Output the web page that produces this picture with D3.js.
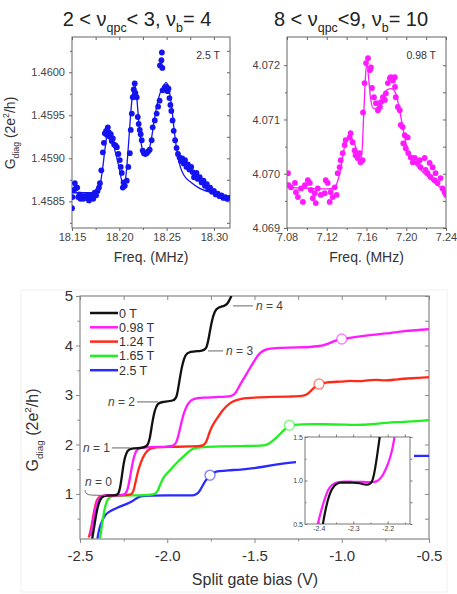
<!DOCTYPE html>
<html>
<head>
<meta charset="utf-8">
<script src="https://cdn.jsdelivr.net/npm/d3@7"></script>
<style>
  body { margin: 0; background: #fff; }
  svg { font-family: "Liberation Sans", Arial, sans-serif; }
</style>
</head>
<body>
<svg id="chart" width="457" height="594"></svg>
<script>
// ---- top left: 2.5 T spectrum (freq MHz, G in 2e^2/h)
const spec25Points = [
  [18.1500,1.45842],[18.1505,1.45855],[18.1520,1.45863],[18.1530,1.45871],[18.1540,1.45865],[18.1555,1.45866],
  [18.1565,1.45855],[18.1580,1.45858],[18.1590,1.45853],[18.1605,1.45856],[18.1620,1.45853],[18.1635,1.45856],
  [18.1650,1.45854],[18.1665,1.45857],[18.1680,1.45851],[18.1695,1.45855],[18.1710,1.45857],[18.1725,1.45853],
  [18.1740,1.45860],[18.1755,1.45857],[18.1770,1.45862],[18.1785,1.45866],[18.1795,1.45871],[18.1810,1.45886],
  [18.1826,1.45907],[18.1837,1.45918],[18.1847,1.45929],[18.1860,1.45932],[18.1870,1.45927],[18.1879,1.45936],
  [18.1890,1.45930],[18.1900,1.45925],[18.1910,1.45928],[18.1920,1.45920],[18.1932,1.45923],[18.1945,1.45916],
  [18.1960,1.45915],[18.1974,1.45913],[18.1990,1.45905],[18.2005,1.45898],[18.2015,1.45890],[18.2026,1.45883],
  [18.2037,1.45866],[18.2045,1.45872],[18.2058,1.45868],[18.2079,1.45874],[18.2095,1.45890],[18.2111,1.45906],
  [18.2121,1.45933],[18.2132,1.45952],[18.2142,1.45971],[18.2152,1.45980],[18.2163,1.45987],[18.2170,1.45976],
  [18.2184,1.45971],[18.2195,1.45948],[18.2205,1.45940],[18.2216,1.45933],[18.2226,1.45928],[18.2237,1.45921],
  [18.2247,1.45909],[18.2260,1.45906],[18.2275,1.45905],[18.2289,1.45906],[18.2305,1.45908],[18.2321,1.45910],
  [18.2342,1.45921],[18.2353,1.45936],[18.2375,1.45944],[18.2395,1.45952],[18.2410,1.45960],[18.2426,1.45967],
  [18.2430,1.46008],[18.2445,1.46014],[18.2450,1.46023],[18.2455,1.46005],[18.2458,1.45979],[18.2480,1.45982],
  [18.2500,1.45983],[18.2510,1.45978],[18.2520,1.45981],[18.2530,1.45970],[18.2540,1.45962],[18.2550,1.45955],
  [18.2563,1.45944],[18.2575,1.45932],[18.2590,1.45921],[18.2605,1.45912],[18.2620,1.45905],[18.2637,1.45901],
  [18.2650,1.45897],[18.2665,1.45900],[18.2680,1.45894],[18.2695,1.45898],[18.2710,1.45890],[18.2725,1.45893],
  [18.2740,1.45887],[18.2760,1.45890],[18.2775,1.45884],[18.2790,1.45878],[18.2805,1.45880],[18.2816,1.45883],
  [18.2830,1.45876],[18.2850,1.45878],[18.2870,1.45872],[18.2890,1.45874],[18.2905,1.45868],[18.2925,1.45870],
  [18.2940,1.45865],[18.2960,1.45866],[18.2980,1.45861],[18.3000,1.45862],[18.3020,1.45858],[18.3040,1.45859],
  [18.3060,1.45856],[18.3080,1.45857],[18.3100,1.45854],[18.3120,1.45855],[18.3140,1.45853],[18.3160,1.45854]
];
const spec25Fit = [
  [18.150,1.45860],[18.165,1.45860],[18.176,1.45861],[18.179,1.45866],[18.182,1.45885],[18.185,1.45912],
  [18.1875,1.45930],[18.189,1.45933],[18.191,1.45928],[18.194,1.45915],[18.197,1.45902],[18.200,1.45888],
  [18.2025,1.45874],[18.2045,1.45868],[18.2065,1.45875],[18.2085,1.45898],[18.2105,1.45928],[18.2125,1.45958],
  [18.2145,1.45978],[18.2163,1.45985],[18.218,1.45976],[18.220,1.45950],[18.222,1.45926],[18.2245,1.45910],
  [18.2275,1.45904],[18.2305,1.45907],[18.2335,1.45920],[18.2375,1.45948],[18.2415,1.45970],[18.2455,1.45982],
  [18.2495,1.45988],[18.2525,1.45980],[18.2555,1.45958],[18.2585,1.45928],[18.2615,1.45905],[18.2645,1.45890],
  [18.2685,1.45880],[18.2760,1.45872],[18.2850,1.45865],[18.3030,1.45859],[18.3170,1.45855]
];

// ---- top right: 0.98 T spectrum
const spec098Points = [
  [7.081,4.07001],[7.0815,4.06979],[7.084,4.06975],[7.088,4.06983],[7.089,4.06966],[7.091,4.06957],
  [7.094,4.06973],[7.096,4.06948],[7.098,4.06979],[7.101,4.06988],[7.103,4.06983],[7.104,4.06970],
  [7.106,4.06955],[7.108,4.06964],[7.109,4.06946],[7.111,4.06973],[7.114,4.06961],[7.118,4.06964],
  [7.119,4.06988],[7.121,4.06983],[7.123,4.06948],[7.124,4.06966],[7.126,4.06957],[7.128,4.06975],
  [7.130,4.06961],[7.131,4.07001],[7.133,4.07012],[7.134,4.07025],[7.136,4.07038],[7.138,4.07053],
  [7.139,4.07062],[7.143,4.07067],[7.144,4.07075],[7.146,4.07058],[7.148,4.07043],[7.149,4.07034],
  [7.151,4.07029],[7.153,4.07038],[7.154,4.07021],[7.156,4.07025],[7.1565,4.07113],[7.158,4.07167],
  [7.1595,4.07204],[7.1615,4.07213],[7.1635,4.07191],[7.1645,4.07196],[7.1655,4.07158],[7.1675,4.07141],
  [7.1695,4.07130],[7.1715,4.07117],[7.1735,4.07123],[7.1745,4.07132],[7.1765,4.07141],[7.1785,4.07136],
  [7.1795,4.07148],[7.1815,4.07167],[7.1835,4.07176],[7.1845,4.07178],[7.1865,4.07172],[7.1885,4.07178],
  [7.1887,4.07160],[7.1895,4.07141],[7.1915,4.07123],[7.1935,4.07117],[7.1945,4.07090],[7.1965,4.07086],
  [7.1985,4.07071],[7.1970,4.07056],[7.1995,4.07047],[7.2015,4.07067],[7.2020,4.07038],[7.2045,4.07030],
  [7.2065,4.07021],[7.2085,4.07029],[7.2115,4.07020],[7.2135,4.07025],[7.2145,4.07012],[7.2185,4.07029],
  [7.2195,4.07007],[7.2215,4.07001],[7.2235,4.07020],[7.2245,4.06994],[7.2265,4.07012],[7.2285,4.06988],
  [7.2295,4.07001],[7.2315,4.06983],[7.2345,4.06992],[7.2365,4.06973],[7.2385,4.06966],[7.2400,4.06961]
];
const spec098Fit = [
  [7.080,4.06975],[7.100,4.06973],[7.120,4.06972],[7.128,4.06975],[7.133,4.07000],[7.138,4.07050],
  [7.143,4.07068],[7.147,4.07060],[7.151,4.07040],[7.155,4.07030],[7.157,4.07100],[7.159,4.07180],
  [7.1605,4.07205],[7.162,4.07180],[7.164,4.07140],[7.167,4.07120],[7.171,4.07122],[7.176,4.07140],
  [7.181,4.07155],[7.185,4.07157],[7.189,4.07150],[7.193,4.07120],[7.197,4.07080],[7.2015,4.07043],
  [7.206,4.07025],[7.212,4.07012],[7.222,4.06994],[7.232,4.06978],[7.240,4.06968]
];

// ---- bottom: conductance vs split gate bias (V, G in 2e^2/h)
const fieldLabels = ["0 T", "0.98 T", "1.24 T", "1.65 T", "2.5 T"];
const fieldColors = ["#111111", "#ff1aff", "#ff2a1a", "#22ee22", "#2a2aff"];
const curve0T = [
  [-2.43,0.10],[-2.42,0.30],[-2.405,0.65],[-2.39,0.85],[-2.375,0.94],[-2.355,0.97],[-2.30,0.97],[-2.28,0.98],
  [-2.268,1.15],[-2.255,1.50],[-2.243,1.75],[-2.228,1.88],[-2.21,1.92],[-2.15,1.93],[-2.115,1.95],[-2.10,2.10],
  [-2.088,2.40],[-2.072,2.70],[-2.055,2.83],[-2.035,2.86],[-1.96,2.88],[-1.945,2.95],[-1.93,3.30],[-1.912,3.65],
  [-1.895,3.82],[-1.875,3.88],[-1.80,3.89],[-1.775,3.92],[-1.762,4.15],[-1.745,4.50],[-1.728,4.70],[-1.71,4.77],
  [-1.67,4.80],[-1.655,4.84],[-1.642,4.93],[-1.632,5.00]
];
const curve098T = [
  [-2.44,0.15],[-2.43,0.35],[-2.415,0.70],[-2.40,0.88],[-2.38,0.96],[-2.35,0.98],[-2.28,0.97],[-2.24,0.98],
  [-2.225,1.10],[-2.21,1.40],[-2.195,1.70],[-2.18,1.88],[-2.16,1.94],[-2.05,1.95],[-1.96,1.96],[-1.945,2.05],
  [-1.925,2.35],[-1.905,2.65],[-1.88,2.85],[-1.85,2.93],[-1.80,2.95],[-1.70,2.96],[-1.63,2.97],[-1.61,3.02],
  [-1.585,3.20],[-1.543,3.44],[-1.50,3.70],[-1.468,3.87],[-1.43,3.93],[-1.394,3.95],[-1.25,3.96],[-1.125,3.98],
  [-1.08,4.03],[-1.04,4.10],[-1.00,4.13],[-0.93,4.17],[-0.838,4.21],[-0.75,4.24],[-0.65,4.29],[-0.50,4.33]
];
const curve124T = [
  [-2.45,0.12],[-2.435,0.30],[-2.42,0.65],[-2.405,0.88],[-2.39,0.95],[-2.36,0.97],[-2.25,0.97],[-2.20,0.98],
  [-2.19,1.10],[-2.175,1.35],[-2.165,1.50],[-2.14,1.75],[-2.115,1.88],[-2.09,1.94],[-2.00,1.95],[-1.85,1.96],
  [-1.79,1.97],[-1.775,2.05],[-1.755,2.29],[-1.73,2.45],[-1.71,2.55],[-1.685,2.68],[-1.66,2.78],[-1.63,2.87],
  [-1.58,2.93],[-1.50,2.95],[-1.40,2.96],[-1.30,2.97],[-1.22,2.97],[-1.19,3.03],[-1.16,3.15],[-1.13,3.22],
  [-1.09,3.26],[-1.00,3.27],[-0.95,3.29],[-0.90,3.27],[-0.85,3.30],[-0.80,3.31],[-0.75,3.29],[-0.70,3.31],
  [-0.60,3.34],[-0.50,3.36]
];
const curve165T = [
  [-2.385,0.10],[-2.375,0.35],[-2.36,0.70],[-2.345,0.88],[-2.33,0.94],[-2.30,0.97],[-2.15,0.97],[-2.07,0.98],
  [-2.055,1.05],[-2.04,1.20],[-2.02,1.35],[-2.00,1.42],[-1.967,1.55],[-1.94,1.65],[-1.91,1.75],[-1.88,1.85],
  [-1.85,1.93],[-1.80,1.95],[-1.70,1.96],[-1.58,1.97],[-1.45,1.97],[-1.42,2.00],[-1.37,2.15],[-1.33,2.30],
  [-1.30,2.39],[-1.24,2.41],[-1.10,2.41],[-0.98,2.40],[-0.88,2.39],[-0.78,2.43],[-0.68,2.45],[-0.50,2.49]
];
const curve25T = [
  [-2.40,0.10],[-2.39,0.30],[-2.375,0.45],[-2.355,0.58],[-2.34,0.63],[-2.30,0.70],[-2.27,0.75],[-2.23,0.80],
  [-2.20,0.85],[-2.175,0.92],[-2.15,0.96],[-2.10,0.97],[-2.00,0.97],[-1.90,0.97],[-1.84,0.97],[-1.82,1.02],
  [-1.80,1.15],[-1.78,1.28],[-1.755,1.38],[-1.73,1.44],[-1.71,1.46],[-1.65,1.48],[-1.58,1.49],[-1.50,1.52],
  [-1.45,1.55],[-1.40,1.58],[-1.33,1.62],[-1.25,1.65],[-1.15,1.68],[-1.00,1.72],[-0.85,1.75],[-0.65,1.77],
  [-0.50,1.77]
];
const fieldCurves = [curve0T, curve098T, curve124T, curve165T, curve25T];
// open circles on each curve: [curve index, V, G]
const openMarkers = [[1,-1.00,4.13],[2,-1.13,3.22],[3,-1.30,2.39],[4,-1.755,1.38]];
// plateau labels: [text, V of line start, V of line end, G, side]
const plateauLabels = [
  ["4", -1.623, -1.509, 4.80, "right"],
  ["3", -1.766, -1.680, 3.89, "right"],
  ["2", -2.173, -2.053, 2.86, "left"],
  ["1", -2.317, -2.213, 1.93, "left"]
];

// inset: zoom of first plateau
const inset0T = [
  [-2.388,0.50],[-2.38,0.68],[-2.368,0.86],[-2.355,0.95],[-2.34,0.98],[-2.319,0.975],[-2.30,0.975],[-2.281,0.97],
  [-2.27,0.955],[-2.261,0.95],[-2.252,0.96],[-2.246,0.975],[-2.24,1.05],[-2.232,1.24],[-2.223,1.50]
];
const inset098T = [
  [-2.403,0.50],[-2.39,0.70],[-2.378,0.85],[-2.368,0.93],[-2.355,0.97],[-2.339,0.99],[-2.30,0.985],[-2.272,0.985],
  [-2.245,0.98],[-2.232,0.985],[-2.222,1.02],[-2.214,1.06],[-2.204,1.14],[-2.194,1.24],[-2.185,1.38],[-2.18,1.50]
];

const svg = d3.select("#chart");

// axes with ticks out on bottom/left, in on top/right (Origin style)
function drawAxes(g, x, y, o) {
  const [xl, xr] = x.range();
  const [yb, yt] = y.range();
  const tidy = sel => {
    sel.select(".domain").remove();
    sel.selectAll("line").attr("stroke", o.stroke);
    sel.selectAll("text").attr("fill", o.textColor).style("font-size", o.fontSize + "px")
      .style("font-family", '"Liberation Sans", Arial, sans-serif');
  };
  g.append("g").attr("transform", `translate(0,${yb})`)
    .call(d3.axisBottom(x).tickValues(o.xMajor).tickFormat(o.xFmt).tickSize(o.tick).tickPadding(o.xPad))
    .call(tidy);
  g.append("g").attr("transform", `translate(0,${yb})`)
    .call(d3.axisBottom(x).tickValues(o.xMinor).tickFormat("").tickSize(o.minor)).call(tidy);
  g.append("g").attr("transform", `translate(${xl},0)`)
    .call(d3.axisLeft(y).tickValues(o.yMajor).tickFormat(o.yFmt).tickSize(o.tick).tickPadding(o.yPad))
    .call(tidy);
  g.append("g").attr("transform", `translate(${xl},0)`)
    .call(d3.axisLeft(y).tickValues(o.yMinor).tickFormat("").tickSize(o.minor)).call(tidy);
  g.append("g").attr("transform", `translate(0,${yt})`)
    .call(d3.axisTop(x).tickValues(o.xMajor.concat(o.xMinor)).tickFormat("").tickSize(-o.tick)).call(tidy);
  g.append("g").attr("transform", `translate(${xr},0)`)
    .call(d3.axisRight(y).tickValues(o.yMajor.concat(o.yMinor)).tickFormat("").tickSize(-o.tick)).call(tidy);
  g.append("rect")
    .attr("x", xl).attr("y", yt).attr("width", xr - xl).attr("height", yb - yt)
    .attr("fill", "none").attr("stroke", o.stroke).attr("stroke-width", o.frameWidth || 1);
}

// text with subscript / superscript parts
function richText(sel, parts, size) {
  let shift = 0;
  parts.forEach(([t, kind]) => {
    const want = kind === "sub" ? size * 0.3 : kind === "sup" ? -size * 0.42 : 0;
    sel.append("tspan").text(t)
      .attr("font-size", kind ? size * 0.62 : size)
      .attr("dy", want - shift);
    shift = want;
  });
}

function gLabel(g, cx, cy, size) {
  const t = g.append("text")
    .attr("transform", `translate(${cx},${cy}) rotate(-90)`)
    .attr("text-anchor", "middle").attr("fill", "#333");
  richText(t, [["G"], ["diag", "sub"], [" (2e"], ["2", "sup"], ["/h)"]], size);
}

// ---------- top spectra ----------
function drawSpectrum(o) {
  const g = svg.append("g");
  const x = d3.scaleLinear().domain(o.xDomain).range([o.left, o.right]);
  const y = d3.scaleLinear().domain(o.yDomain).range([o.bottom, o.top]);

  drawAxes(g, x, y, {
    xMajor: o.xMajor, xMinor: o.xMinor, yMajor: o.yMajor, yMinor: o.yMinor,
    xFmt: o.xFmt, yFmt: o.yFmt, tick: 3, minor: 2, xPad: 2, yPad: 4,
    stroke: "#666", textColor: "#444", fontSize: 11
  });

  const clip = "clip" + o.id;
  g.append("clipPath").attr("id", clip).append("rect")
    .attr("x", o.left).attr("y", o.top).attr("width", o.right - o.left).attr("height", o.bottom - o.top);

  g.append("path").datum(o.fit)
    .attr("clip-path", `url(#${clip})`)
    .attr("fill", "none").attr("stroke", o.color).attr("stroke-width", 1.3)
    .attr("d", d3.line().x(d => x(d[0])).y(d => y(d[1])).curve(d3.curveMonotoneX));

  g.append("g").attr("clip-path", `url(#${clip})`)
    .selectAll("circle").data(o.points).join("circle")
    .attr("cx", d => x(d[0])).attr("cy", d => y(d[1])).attr("r", 2.9)
    .attr("fill", o.color);

  g.append("text").attr("x", o.right - 10).attr("y", o.top + 22)
    .attr("text-anchor", "end").attr("font-size", 10.5).attr("fill", "#333").text(o.tag);

  g.append("text").attr("x", (o.left + o.right) / 2).attr("y", 262)
    .attr("text-anchor", "middle").attr("font-size", 14).attr("fill", "#333").text("Freq. (MHz)");

  const t = g.append("text").attr("x", o.titleX).attr("y", 26)
    .attr("text-anchor", "middle").attr("fill", "#222");
  richText(t, o.title, 20);
}

drawSpectrum({
  id: "l", points: spec25Points, fit: spec25Fit, color: "#1414f0", tag: "2.5 T",
  xDomain: [18.15, 18.317], yDomain: [1.45819, 1.46041],
  left: 72, right: 230, top: 37, bottom: 228,
  xMajor: [18.15, 18.20, 18.25, 18.30], xMinor: [18.175, 18.225, 18.275],
  yMajor: [1.4585, 1.4590, 1.4595, 1.4600], yMinor: [1.45825, 1.45875, 1.45925, 1.45975, 1.46025],
  xFmt: d => d.toFixed(2), yFmt: d => d.toFixed(4),
  titleX: 137,
  title: [["2 < ν"], ["qpc", "sub"], ["< 3, ν"], ["b", "sub"], ["= 4"]]
});
drawSpectrum({
  id: "r", points: spec098Points, fit: spec098Fit, color: "#ff1aff", tag: "0.98 T",
  xDomain: [7.08, 7.24], yDomain: [4.069, 4.07252],
  left: 287, right: 446, top: 37, bottom: 228,
  xMajor: [7.08, 7.12, 7.16, 7.20, 7.24], xMinor: [7.10, 7.14, 7.18, 7.22],
  yMajor: [4.069, 4.070, 4.071, 4.072], yMinor: [4.0695, 4.0705, 4.0715],
  xFmt: d => d.toFixed(2), yFmt: d => d.toFixed(3),
  titleX: 351,
  title: [["8 < ν"], ["qpc", "sub"], ["<9, ν"], ["b", "sub"], ["= 10"]]
});
gLabel(svg, 15, 133, 14);

// ---------- bottom panel ----------
svg.append("rect").attr("x", 21).attr("y", 290).attr("width", 426).attr("height", 302)
  .attr("fill", "none").attr("stroke", "#f0f0f0");

const bx = d3.scaleLinear().domain([-2.5, -0.5]).range([80, 429]);
const by = d3.scaleLinear().domain([0.09, 5]).range([539, 296]);
const bottom = svg.append("g");

drawAxes(bottom, bx, by, {
  xMajor: [-2.5, -2.0, -1.5, -1.0, -0.5], xMinor: [-2.25, -1.75, -1.25, -0.75],
  yMajor: [1, 2, 3, 4, 5], yMinor: [0.5, 1.5, 2.5, 3.5, 4.5],
  xFmt: d => d.toFixed(1), yFmt: d => String(d), tick: 4, minor: 2.5, xPad: 7, yPad: 3,
  stroke: "#888", textColor: "#333", fontSize: 15, frameWidth: 1.2
});

bottom.append("clipPath").attr("id", "clipB").append("rect")
  .attr("x", 80).attr("y", 296).attr("width", 349).attr("height", 243);

const bLine = d3.line().x(d => bx(d[0])).y(d => by(d[1])).curve(d3.curveBasis);
const order = [4, 3, 2, 1, 0];
bottom.append("g").attr("clip-path", "url(#clipB)")
  .selectAll("path").data(order).join("path")
  .attr("fill", "none").attr("stroke", i => fieldColors[i]).attr("stroke-width", 2.3)
  .attr("stroke-linejoin", "round")
  .attr("d", i => bLine(fieldCurves[i]));

bottom.selectAll(".mk").data(openMarkers).join("circle").attr("class", "mk")
  .attr("cx", d => bx(d[1])).attr("cy", d => by(d[2])).attr("r", 5)
  .attr("fill", "#fff").attr("stroke", d => fieldColors[d[0]]).attr("stroke-opacity", 0.55)
  .attr("stroke-width", 1.5);

// plateau labels
plateauLabels.forEach(([n, v1, v2, gv, side]) => {
  bottom.append("line").attr("x1", bx(v1)).attr("x2", bx(v2)).attr("y1", by(gv)).attr("y2", by(gv))
    .attr("stroke", "#666").attr("stroke-width", 1);
  const t = bottom.append("text").attr("y", by(gv) + 4).attr("font-size", 12).attr("fill", "#444")
    .attr("x", side === "right" ? bx(v2) + 3 : bx(v1) - 2)
    .attr("text-anchor", side === "right" ? "start" : "end");
  t.append("tspan").attr("font-style", "italic").text("n");
  t.append("tspan").text(" = " + n);
});
const n0Path = [[-2.471, 1.08], [-2.468, 1.02], [-2.455, 0.985], [-2.43, 0.975], [-2.35, 0.97]];
bottom.append("path").datum(n0Path).attr("fill", "none").attr("stroke", "#666")
  .attr("d", d3.line().x(d => bx(d[0])).y(d => by(d[1])).curve(d3.curveBasis));
const t0 = bottom.append("text").attr("x", bx(-2.472)).attr("y", by(1.24) + 4)
  .attr("font-size", 12).attr("fill", "#444");
t0.append("tspan").attr("font-style", "italic").text("n");
t0.append("tspan").text(" = 0");

// legend
const legend = bottom.append("g");
fieldLabels.forEach((lab, i) => {
  const yy = 313 + i * 14.3;
  legend.append("line").attr("x1", 90).attr("x2", 118).attr("y1", yy).attr("y2", yy)
    .attr("stroke", fieldColors[i]).attr("stroke-width", 2.5);
  legend.append("text").attr("x", 119).attr("y", yy + 4.5).attr("font-size", 12.5)
    .attr("fill", "#333").text(lab);
});

bottom.append("text").attr("x", 255).attr("y", 585).attr("text-anchor", "middle")
  .attr("font-size", 16).attr("fill", "#333").text("Split gate bias (V)");
gLabel(bottom, 38, 430, 16);

// inset
const ix = d3.scaleLinear().domain([-2.44, -2.135]).range([305, 410]);
const iy = d3.scaleLinear().domain([0.5, 1.5]).range([524, 437]);
const inset = svg.append("g");
inset.append("rect").attr("x", 296).attr("y", 432).attr("width", 118).attr("height", 104).attr("fill", "#fff");
drawAxes(inset, ix, iy, {
  xMajor: [-2.4, -2.3, -2.2], xMinor: [-2.35, -2.25, -2.15],
  yMajor: [0.5, 1.0, 1.5], yMinor: [0.75, 1.25],
  xFmt: d => d.toFixed(1), yFmt: d => d.toFixed(1), tick: -2.5, minor: -1.5, xPad: 2.5, yPad: 2,
  stroke: "#777", textColor: "#444", fontSize: 7
});
inset.append("clipPath").attr("id", "clipI").append("rect")
  .attr("x", 305).attr("y", 437).attr("width", 105).attr("height", 87);
const iLine = d3.line().x(d => ix(d[0])).y(d => iy(d[1])).curve(d3.curveBasis);
inset.append("g").attr("clip-path", "url(#clipI)")
  .selectAll("path").data([[inset098T, fieldColors[1]], [inset0T, fieldColors[0]]]).join("path")
  .attr("fill", "none").attr("stroke", d => d[1]).attr("stroke-width", 2.2)
  .attr("d", d => iLine(d[0]));
</script>
</body>
</html>
